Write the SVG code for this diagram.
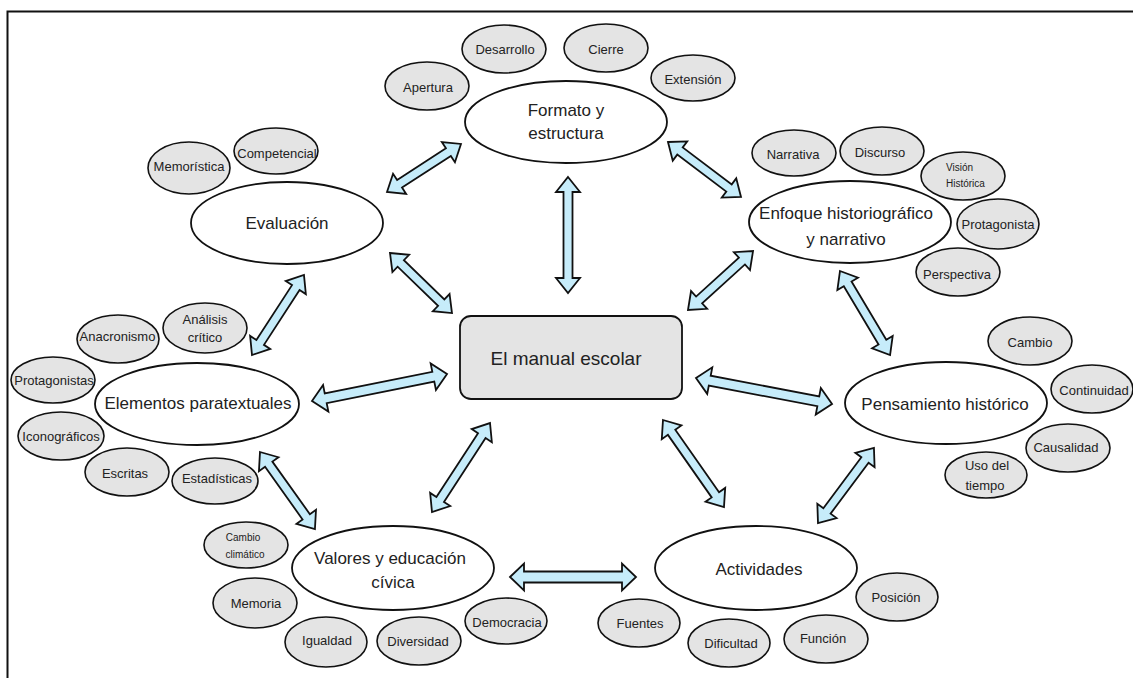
<svg xmlns="http://www.w3.org/2000/svg" width="1133" height="678" viewBox="0 0 1133 678">
<style>
  .frame{fill:none;stroke:#111;stroke-width:2}
  .big{fill:#fff;stroke:#111;stroke-width:1.8}
  .sm{fill:#e4e4e4;stroke:#111;stroke-width:1.6}
  .box{fill:#e4e4e4;stroke:#111;stroke-width:1.8}
  .arr{fill:#c6ecfa;stroke:#111;stroke-width:1.8;stroke-linejoin:miter}
  text{font-family:"Liberation Sans",Arial,sans-serif;fill:#222;text-anchor:middle}
  .lt{font-size:17px}
  .mt{font-size:19px}
  .st{font-size:13px}
  .xs{font-size:10px}
</style>
<rect width="1133" height="678" fill="#fff"/>
<path class="frame" d="M1133,11.5 H7.5 V678"/>

<g id="connectors">
  <polygon class="arr" transform="translate(387,192) rotate(-33)" points="0,0 15,-12 15,-4.5 73.2,-4.5 73.2,-12 88.2,0 73.2,12 73.2,4.5 15,4.5 15,12"/>
  <polygon class="arr" transform="translate(668,142) rotate(37)" points="0,0 15,-12 15,-4.5 76.4,-4.5 76.4,-12 91.4,0 76.4,12 76.4,4.5 15,4.5 15,12"/>
  <polygon class="arr" transform="translate(568,177) rotate(90)" points="0,0 15,-12 15,-4.5 101,-4.5 101,-12 116,0 101,12 101,4.5 15,4.5 15,12"/>
  <polygon class="arr" transform="translate(390,253) rotate(44.1)" points="0,0 15,-12 15,-4.5 71.3,-4.5 71.3,-12 86.3,0 71.3,12 71.3,4.5 15,4.5 15,12"/>
  <polygon class="arr" transform="translate(688,310) rotate(-42.2)" points="0,0 15,-12 15,-4.5 72.8,-4.5 72.8,-12 87.8,0 72.8,12 72.8,4.5 15,4.5 15,12"/>
  <polygon class="arr" transform="translate(252,355) rotate(-57)" points="0,0 15,-12 15,-4.5 80.4,-4.5 80.4,-12 95.4,0 80.4,12 80.4,4.5 15,4.5 15,12"/>
  <polygon class="arr" transform="translate(312,401) rotate(-11.3)" points="0,0 14,-13.5 14,-5 123.7,-5 123.7,-13.5 137.7,0 123.7,13.5 123.7,5 14,5 14,13.5"/>
  <polygon class="arr" transform="translate(696,378) rotate(10.8)" points="0,0 14,-13.5 14,-5 124.5,-5 124.5,-13.5 138.5,0 124.5,13.5 124.5,5 14,5 14,13.5"/>
  <polygon class="arr" transform="translate(840,271) rotate(59.2)" points="0,0 15,-12 15,-4.5 82.8,-4.5 82.8,-12 97.8,0 82.8,12 82.8,4.5 15,4.5 15,12"/>
  <polygon class="arr" transform="translate(260,452) rotate(54.5)" points="0,0 15,-12 15,-4.5 79.6,-4.5 79.6,-12 94.6,0 79.6,12 79.6,4.5 15,4.5 15,12"/>
  <polygon class="arr" transform="translate(432,512) rotate(-56.9)" points="0,0 15,-12 15,-4.5 91.2,-4.5 91.2,-12 106.2,0 91.2,12 91.2,4.5 15,4.5 15,12"/>
  <polygon class="arr" transform="translate(663,420) rotate(55)" points="0,0 15,-12 15,-4.5 91.3,-4.5 91.3,-12 106.3,0 91.3,12 91.3,4.5 15,4.5 15,12"/>
  <polygon class="arr" transform="translate(510,577)" points="0,0 14,-13.5 14,-5.5 112,-5.5 112,-13.5 126,0 112,13.5 112,5.5 14,5.5 14,13.5"/>
  <polygon class="arr" transform="translate(818,523) rotate(-53.3)" points="0,0 15,-12 15,-4.5 78.6,-4.5 78.6,-12 93.6,0 78.6,12 78.6,4.5 15,4.5 15,12"/>
</g>

<g id="manual">
  <rect class="box" x="460" y="316" width="222" height="83" rx="11"/>
  <text class="mt" x="566" y="365">El manual escolar</text>
</g>

<g id="formato">
  <ellipse class="big" cx="566" cy="122" rx="101" ry="41"/>
  <text class="lt" x="566" y="116">Formato y</text>
  <text class="lt" x="566" y="139">estructura</text>
</g>
<g id="apertura"><ellipse class="sm" cx="427" cy="86" rx="42" ry="24"/><text class="st" x="428" y="91.5">Apertura</text></g>
<g id="desarrollo"><ellipse class="sm" cx="504" cy="49" rx="42" ry="24"/><text class="st" x="505" y="53.5">Desarrollo</text></g>
<g id="cierre"><ellipse class="sm" cx="606" cy="48" rx="42" ry="24"/><text class="st" x="606" y="53.5">Cierre</text></g>
<g id="extension"><ellipse class="sm" cx="693" cy="78" rx="42" ry="23"/><text class="st" x="693" y="84">Extensión</text></g>

<g id="evaluacion">
  <ellipse class="big" cx="287" cy="223" rx="96" ry="41"/>
  <text class="lt" x="287" y="229">Evaluación</text>
</g>
<g id="memoristica"><ellipse class="sm" cx="189" cy="168" rx="41" ry="26"/><text class="st" x="189" y="171">Memorística</text></g>
<g id="competencial"><ellipse class="sm" cx="276" cy="151" rx="42" ry="23"/><text class="st" x="277" y="157.5">Competencial</text></g>

<g id="enfoque">
  <ellipse class="big" cx="850" cy="222" rx="101" ry="41"/>
  <text class="lt" x="846" y="219">Enfoque historiográfico</text>
  <text class="lt" x="846" y="245">y narrativo</text>
</g>
<g id="narrativa"><ellipse class="sm" cx="794" cy="153" rx="42" ry="23"/><text class="st" x="793" y="158.5">Narrativa</text></g>
<g id="discurso"><ellipse class="sm" cx="882" cy="151" rx="42" ry="24"/><text class="st" x="880" y="156.5">Discurso</text></g>
<g id="vision"><ellipse class="sm" cx="963" cy="176" rx="42" ry="24"/><text class="xs" x="946" y="170.5" style="text-anchor:start">Visión</text><text class="xs" x="946" y="186.5" style="text-anchor:start">Histórica</text></g>
<g id="protagonista"><ellipse class="sm" cx="998" cy="224" rx="41" ry="25"/><text class="st" x="998" y="228.5">Protagonista</text></g>
<g id="perspectiva"><ellipse class="sm" cx="958" cy="272" rx="42" ry="24"/><text class="st" x="957" y="279">Perspectiva</text></g>

<g id="elementos">
  <ellipse class="big" cx="197" cy="404" rx="102" ry="41"/>
  <text class="lt" x="198" y="409">Elementos paratextuales</text>
</g>
<g id="analisis"><ellipse class="sm" cx="205" cy="328" rx="42" ry="25"/><text class="st" x="205" y="323.5">Análisis</text><text class="st" x="205" y="342">crítico</text></g>
<g id="anacronismo"><ellipse class="sm" cx="118" cy="339" rx="41" ry="24"/><text class="st" x="117.5" y="340.5">Anacronismo</text></g>
<g id="protagonistas"><ellipse class="sm" cx="53" cy="380" rx="42" ry="23"/><text class="st" x="54" y="384.5">Protagonistas</text></g>
<g id="iconograficos"><ellipse class="sm" cx="61" cy="436" rx="43" ry="24"/><text class="st" x="61" y="440.5">Iconográficos</text></g>
<g id="escritas"><ellipse class="sm" cx="127" cy="472" rx="42" ry="24"/><text class="st" x="125" y="477.5">Escritas</text></g>
<g id="estadisticas"><ellipse class="sm" cx="215" cy="481" rx="43" ry="23"/><text class="st" x="217" y="482.5">Estadísticas</text></g>

<g id="pensamiento">
  <ellipse class="big" cx="946" cy="403" rx="101" ry="41"/>
  <text class="lt" x="945" y="410">Pensamiento histórico</text>
</g>
<g id="cambio"><ellipse class="sm" cx="1030" cy="341" rx="42" ry="24"/><text class="st" x="1030" y="346.5">Cambio</text></g>
<g id="continuidad"><ellipse class="sm" cx="1092" cy="389" rx="41" ry="24"/><text class="st" x="1094" y="394.5">Continuidad</text></g>
<g id="causalidad"><ellipse class="sm" cx="1068" cy="448" rx="42" ry="24"/><text class="st" x="1066" y="451.5">Causalidad</text></g>
<g id="uso"><ellipse class="sm" cx="986" cy="475" rx="41" ry="23"/><text class="st" x="987" y="469.5">Uso del</text><text class="st" x="985" y="489.5">tiempo</text></g>

<g id="valores">
  <ellipse class="big" cx="393" cy="568" rx="101" ry="42"/>
  <text class="lt" x="390" y="564">Valores y educación</text>
  <text class="lt" x="393" y="588">cívica</text>
</g>
<g id="climatico"><ellipse class="sm" cx="246" cy="545" rx="42" ry="23"/><text class="xs" x="243" y="540.5">Cambio</text><text class="xs" x="245" y="557.5">climático</text></g>
<g id="memoria"><ellipse class="sm" cx="255" cy="603" rx="42" ry="25"/><text class="st" x="256" y="607.5">Memoria</text></g>
<g id="igualdad"><ellipse class="sm" cx="326" cy="642" rx="41" ry="25"/><text class="st" x="327" y="644.5">Igualdad</text></g>
<g id="diversidad"><ellipse class="sm" cx="419" cy="641" rx="42" ry="24"/><text class="st" x="418" y="645.5">Diversidad</text></g>
<g id="democracia"><ellipse class="sm" cx="506" cy="621" rx="41" ry="23"/><text class="st" x="507" y="626.5">Democracia</text></g>

<g id="actividades">
  <ellipse class="big" cx="756" cy="568" rx="101" ry="42"/>
  <text class="lt" x="759" y="575">Actividades</text>
</g>
<g id="fuentes"><ellipse class="sm" cx="639" cy="623" rx="41" ry="24"/><text class="st" x="640" y="627.5">Fuentes</text></g>
<g id="dificultad"><ellipse class="sm" cx="729" cy="643" rx="41" ry="24"/><text class="st" x="731" y="647.5">Dificultad</text></g>
<g id="funcion"><ellipse class="sm" cx="826" cy="639" rx="42" ry="24"/><text class="st" x="823" y="642.5">Función</text></g>
<g id="posicion"><ellipse class="sm" cx="897" cy="597" rx="41" ry="24"/><text class="st" x="896" y="601.5">Posición</text></g>
</svg>
